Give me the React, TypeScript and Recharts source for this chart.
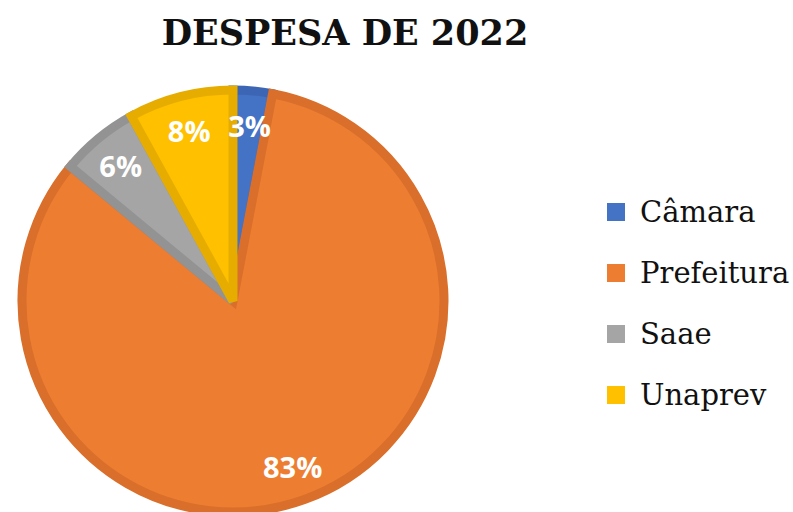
import React from "react";
import { PieChart, Pie, Cell, Legend } from "recharts";

const categories = ["Câmara", "Prefeitura", "Saae", "Unaprev"];
const values = [3, 83, 6, 8];
const fills = ["#4472C4", "#ED7D31", "#A5A5A5", "#FFC000"];
const borders = ["#3C66B3", "#D96F2A", "#939393", "#E6AD00"];
const title = "DESPESA DE 2022";

const data = categories.map((name, i) => ({ name, value: values[i] }));

const RAD = Math.PI / 180;

const renderLabel = (props: any) => {
  const { cx, cy, midAngle, outerRadius, percent } = props;
  const r = outerRadius * 0.835;
  const x = cx + r * Math.cos(-midAngle * RAD);
  const y = cy + r * Math.sin(-midAngle * RAD);
  return (
    <text
      x={x}
      y={y}
      fill="#FFFFFF"
      textAnchor="middle"
      dominantBaseline="central"
      style={{ fontFamily: "'Open Sans', sans-serif", fontWeight: 700, fontSize: 29 }}
    >
      {`${Math.round(percent * 100)}%`}
    </text>
  );
};

const renderLegend = () => (
  <div style={{ display: "flex", flexDirection: "column" }}>
    {categories.map((c, i) => (
      <div
        key={c}
        style={{ display: "flex", alignItems: "center", height: 61 }}
      >
        <div
          style={{
            width: 18,
            height: 18,
            background: fills[i],
            marginRight: 15,
          }}
        />
        <span
          style={{
            fontFamily: "'DejaVu Serif', serif",
            fontSize: 29,
            color: "#111111",
          }}
        >
          {c}
        </span>
      </div>
    ))}
  </div>
);

export default function App() {
  return (
    <div
      style={{
        position: "absolute",
        left: 0,
        top: 0,
        width: 793,
        height: 512,
        background: "#FFFFFF",
        overflow: "hidden",
      }}
    >
      <div
        style={{
          position: "absolute",
          left: 0,
          top: 10,
          width: 690,
          textAlign: "center",
          fontFamily: "'DejaVu Serif', serif",
          fontWeight: 700,
          fontSize: 35,
          color: "#111111",
          lineHeight: "46px",
        }}
      >
        {title}
      </div>
      <PieChart
        width={793}
        height={512}
        margin={{ top: 0, right: 0, bottom: 0, left: 0 }}
        style={{ position: "absolute", left: 0, top: 0 }}
      >
        <Pie
          data={data}
          dataKey="value"
          nameKey="name"
          cx={233}
          cy={301}
          outerRadius={211}
          startAngle={90}
          endAngle={-270}
          isAnimationActive={false}
          label={renderLabel}
          labelLine={false}
        >
          {data.map((d, i) => (
            <Cell key={d.name} fill={fills[i]} stroke={borders[i]} strokeWidth={9} />
          ))}
        </Pie>
        <Legend
          content={renderLegend}
          layout="vertical"
          wrapperStyle={{ position: "absolute", left: 607, top: 181, width: 190 }}
        />
      </PieChart>
    </div>
  );
}
